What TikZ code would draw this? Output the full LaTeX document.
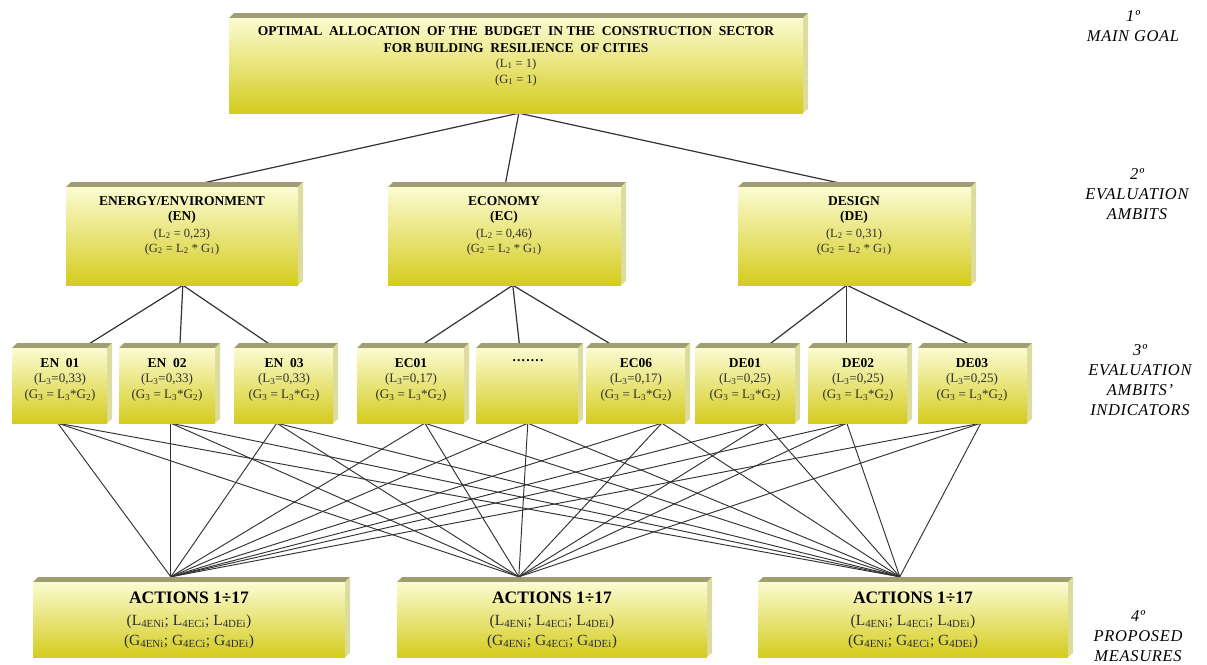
\documentclass[tikz,border=0pt]{standalone}
\usepackage{fontspec}
\setmainfont{Liberation Serif}
\newfontfamily\lblfont[LetterSpace=4]{Liberation Serif}
\usetikzlibrary{fit,calc}
\definecolor{facetop}{HTML}{FBFBD2}
\definecolor{facebot}{HTML}{D4CC1E}
\definecolor{bevtop}{HTML}{9E9E72}
\definecolor{bevside}{HTML}{DCDC9E}
\definecolor{linegray}{HTML}{333333}
\definecolor{txtgray}{HTML}{2E2E2E}
\pgfdeclarelayer{background}
\pgfsetlayers{background,main}
\newcommand\myfs[2]{\fontsize{#1}{#2}\selectfont}
% #1 name, #2 x0, #3 y0, #4 x1, #5 y1
\newcommand\ybox[5]{%
  \fill[bevtop] (#2,#3+5) -- (#2+5,#3) -- (#4+5,#3) -- (#4,#3+5) -- cycle;
  \fill[bevside] (#4,#3+5) -- (#4+5,#3) -- (#4+5,#5-4) -- (#4,#5) -- cycle;
  \node[face, fit={(#2,#3+5) (#4,#5)}] (#1) {};
}
\tikzset{
  face/.style={rectangle, inner sep=0pt, top color=facetop, bottom color=facebot, draw=none},
  conn/.style={draw=linegray, line width=1.2pt},
  thin conn/.style={draw=linegray, line width=0.95pt},
  ttl/.style={inner sep=0pt, text=black, font=\myfs{13.5}{16}\bfseries},
  val/.style={inner sep=0pt, text=txtgray, font=\myfs{12.5}{15}},
  t3ttl/.style={inner sep=0pt, text=black, font=\myfs{13.5}{16}\bfseries},
  t3val/.style={inner sep=0pt, text=txtgray, font=\myfs{13}{16}},
  t4ttl/.style={inner sep=0pt, text=black, font=\myfs{17.5}{20}\bfseries},
  t4val/.style={inner sep=0pt, text=txtgray, font=\myfs{15.5}{19}},
  levtxt/.style={align=center, font=\lblfont\itshape\myfs{16.5}{20}},
}
\begin{document}
\begin{tikzpicture}[x=1pt,y=-1pt]
\useasboundingbox (0,0) rectangle (1207,664);

% level 1
\ybox{top}{229}{13}{803}{113}
% level 2
\ybox{en}{66}{182}{298}{285}
\ybox{ec}{388}{182}{621}{285}
\ybox{de}{738}{182}{971}{285}
% level 3
\ybox{en1}{12}{343}{107}{423}
\ybox{en2}{119}{343}{215}{423}
\ybox{en3}{234}{343}{333}{423}
\ybox{ec1}{357}{343}{464}{423}
\ybox{ecx}{476}{343}{578}{423}
\ybox{ec6}{586}{343}{685}{423}
\ybox{de1}{695}{343}{795}{423}
\ybox{de2}{808}{343}{907}{423}
\ybox{de3}{918}{343}{1027}{423}
% level 4
\ybox{a1}{33}{577}{345}{657}
\ybox{a2}{397}{577}{707}{657}
\ybox{a3}{758}{577}{1068}{657}

% texts level 1
\node[ttl] at (516,31) {OPTIMAL\ \ ALLOCATION\ \ OF\ THE\ \ BUDGET\ \ IN\ THE\ \ CONSTRUCTION\ \ SECTOR};
\node[ttl] at (516,48) {FOR\ BUILDING\ \ RESILIENCE\ \ OF\ CITIES};
\node[val] at (516,64) {(L\textsubscript{1} = 1)};
\node[val] at (516,80) {(G\textsubscript{1} = 1)};

% texts level 2
\foreach \n/\x/\t/\a/\v in {en/182/ENERGY\slash ENVIRONMENT/EN/0{,}23, ec/504/ECONOMY/EC/0{,}46, de/854/DESIGN/DE/0{,}31}{
  \node[ttl] at (\x,201) {\t};
  \node[ttl] at (\x,217) {(\a)};
  \node[val] at (\x,234) {(L\textsubscript{2} = \v)};
  \node[val] at (\x,249) {(G\textsubscript{2} = L\textsubscript{2} * G\textsubscript{1})};
}

% texts level 3
\foreach \n/\x/\t/\v in {en1/60/EN\ \ 01/0{,}33, en2/167/EN\ \ 02/0{,}33, en3/284/EN\ \ 03/0{,}33, ec1/411/EC01/0{,}17, ec6/636/EC06/0{,}17, de1/745/DE01/0{,}25, de2/858/DE02/0{,}25, de3/972/DE03/0{,}25}{
  \node[t3ttl] at (\x,363) {\t};
  \node[t3val] at (\x,379) {(L\textsubscript{3}=\v)};
  \node[t3val] at (\x,395) {(G\textsubscript{3} = L\textsubscript{3}*G\textsubscript{2})};
}
\node[t3ttl] at (528,361) {.\kern1.2pt.\kern1.2pt.\kern1.2pt.\kern1.2pt.\kern1.2pt.\kern1.2pt.};

% texts level 4
\foreach \n/\x in {a1/189, a2/552, a3/913}{
  \node[t4ttl] at (\x,598) {ACTIONS 1÷17};
  \node[t4val] at (\x,622) {(L\textsubscript{4ENi}; L\textsubscript{4ECi}; L\textsubscript{4DEi})};
  \node[t4val] at (\x,642) {(G\textsubscript{4ENi}; G\textsubscript{4ECi}; G\textsubscript{4DEi})};
}

% level labels
\node[levtxt] at (1133,26) {1º\\MAIN GOAL};
\node[levtxt] at (1137,194) {2º\\EVALUATION\\AMBITS};
\node[levtxt] at (1140,380) {3º\\EVALUATION\\AMBITS’\\INDICATORS};
\node[levtxt] at (1138,636) {4º\\PROPOSED\\MEASURES};

% connectors
\begin{pgfonlayer}{background}
\foreach \n/\d in {en/120, ec/117, de/119}
  \draw[conn] ([xshift=290pt]top.south west) -- ([xshift=\d pt]\n.north west);
\foreach \n/\d in {en1/71, en2/61, en3/41}
  \draw[conn] ([xshift=117pt]en.south west) -- ([xshift=\d pt]\n.north west);
\foreach \n/\d in {ec1/61, ecx/44, ec6/31}
  \draw[conn] ([xshift=125pt]ec.south west) -- ([xshift=\d pt]\n.north west);
\foreach \n/\d in {de1/70, de2/39, de3/59}
  \draw[conn] ([xshift=109pt]de.south west) -- ([xshift=\d pt]\n.north west);
\foreach \n/\d in {en1/46, en2/52, en3/43, ec1/68, ecx/52, ec6/76, de1/70, de2/39, de3/63}
  \foreach \a/\e in {a1/138, a2/122, a3/142}
    \draw[thin conn] ([xshift=\d pt]\n.south west) -- ([xshift=\e pt, yshift=5pt]\a.north west);
\end{pgfonlayer}
\end{tikzpicture}
\end{document}
